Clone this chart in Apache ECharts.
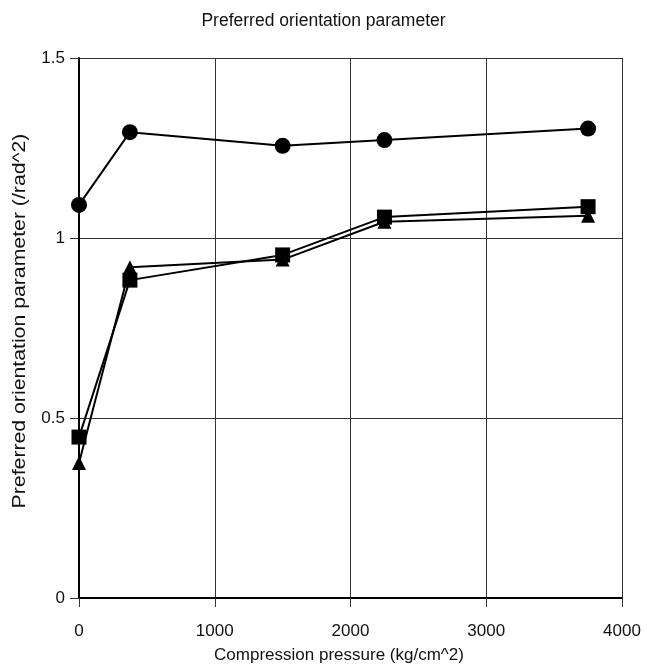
<!DOCTYPE html>
<html><head><meta charset="utf-8">
<script src="https://cdn.jsdelivr.net/npm/echarts@6/dist/echarts.min.js"></script>
<style>html,body{margin:0;padding:0;background:#fff}#c{width:647px;height:667px}</style>
</head><body><div id="c"></div>
<script>
const pressure = [0, 375, 1500, 2250, 3750];
const circleSeries = [1.092, 1.294, 1.256, 1.272, 1.304];
const squareSeries = [0.447, 0.883, 0.953, 1.058, 1.087];
const triangleSeries = [0.375, 0.919, 0.940, 1.045, 1.062];
const xTicks = [0, 1000, 2000, 3000, 4000];
const yTicks = [0, 0.5, 1, 1.5];
const yAxisTitle = 'Preferred orientation parameter (/rad^2)';

const pair = arr => pressure.map((x, i) => [x, arr[i]]);
const chart = echarts.init(document.getElementById('c'));
const lineSeries = (name, data, symbol, size) => ({
  name, type: 'line', data: pair(data), symbol, symbolSize: size,
  lineStyle: {color: '#000', width: 2}, itemStyle: {color: '#000'}, z: 3
});
const font = 'Liberation Sans';
chart.setOption({
  animation: false,
  title: {text: 'Preferred orientation parameter', left: 'center', top: 7,
    textStyle: {fontFamily: font, fontSize: 17.5, fontWeight: 'normal', color: '#111'}},
  grid: {left: 79, right: 25, top: 58, bottom: 69, containLabel: false, outerBoundsMode: 'none'},
  graphic: [{
    type: 'text', x: 20, y: 321, rotation: Math.PI / 2, scaleX: 1.18,
    style: {text: yAxisTitle, font: '18px "Liberation Sans"', fill: '#111',
      align: 'center', verticalAlign: 'middle'}
  }],
  xAxis: {type: 'value', min: 0, max: 4000, interval: 1000,
    name: 'Compression pressure (kg/cm^2)', nameLocation: 'middle', nameGap: 49,
    nameTextStyle: {fontFamily: font, fontSize: 17, color: '#111', padding: [0, 23, 0, 0]},
    axisLine: {lineStyle: {color: '#000', width: 2}},
    axisTick: {show: true, length: 9, lineStyle: {color: '#333'}},
    axisLabel: {fontFamily: font, fontSize: 17, color: '#111', margin: 25,
      formatter: v => xTicks.includes(v) ? String(v) : ''},
    splitLine: {show: true, lineStyle: {color: '#333', width: 1}}},
  yAxis: {type: 'value', min: 0, max: 1.5, interval: 0.5,
    axisLine: {show: true, lineStyle: {color: '#000', width: 2}},
    axisTick: {show: true, length: 9, lineStyle: {color: '#333'}},
    axisLabel: {fontFamily: font, fontSize: 17, color: '#111', margin: 14,
      formatter: v => yTicks.includes(v) ? String(v) : ''},
    splitLine: {show: true, lineStyle: {color: '#333', width: 1}}},
  series: [
    lineSeries('circle', circleSeries, 'circle', 16),
    lineSeries('triangle', triangleSeries, 'triangle', 14),
    lineSeries('square', squareSeries, 'rect', 15)
  ]
});
</script></body></html>
